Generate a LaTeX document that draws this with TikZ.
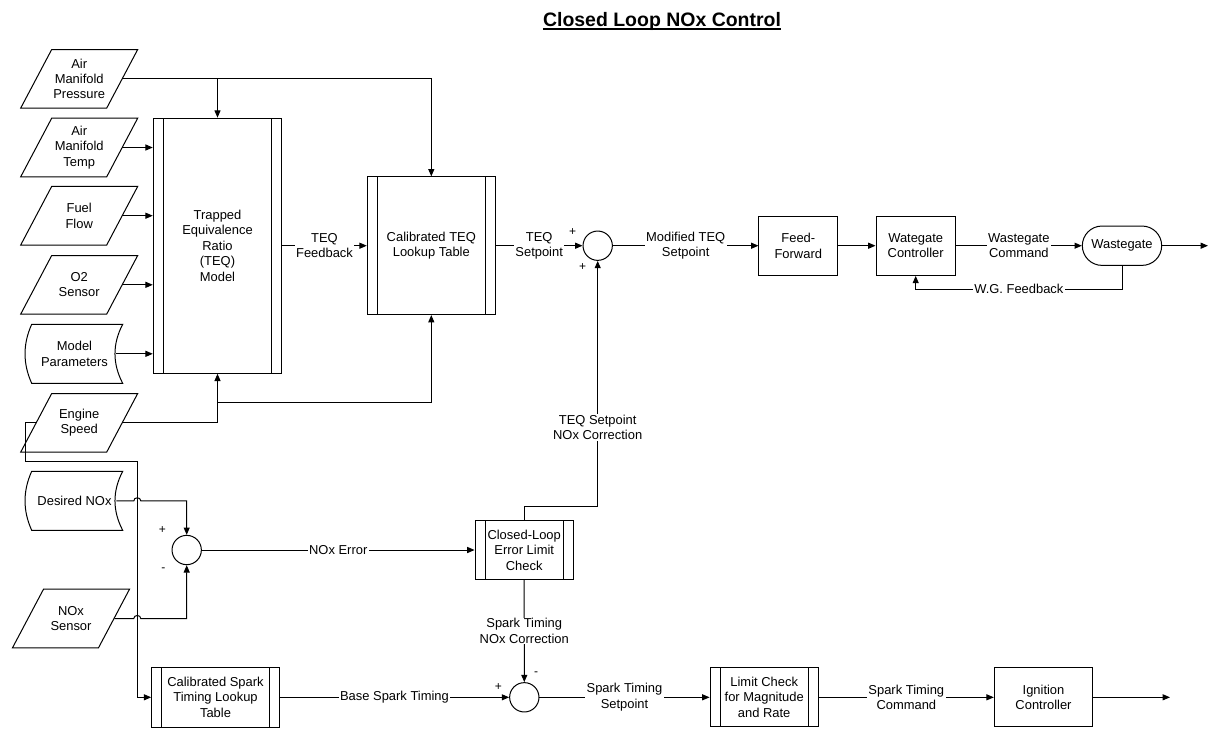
\documentclass[tikz,border=0pt]{standalone}
\usepackage{fontspec}
\setmainfont{Liberation Sans}
\usetikzlibrary{arrows.meta}
\newcommand\parashape[4]{%
  \node[minimum width=64.5pt, minimum height=44pt, inner sep=0pt] (#1) at (#2,#3) {#4};
  \draw[ln] (#2-27.5,#3-29.3) -- (#2+58.5,#3-29.3) -- (#2+27.5,#3+29.3) -- (#2-58.5,#3+29.3) -- cycle;}
\newcommand\sdshape[3]{%
  \node[minimum width=62.25pt, minimum height=44pt, inner sep=0pt] (#1) at (74.5,#2) {#3};
  \draw[ln] (31.7,#2-29.5) -- (122.7,#2-29.5) .. controls (112.4,#2-9.8) and (112.4,#2+9.8) .. (122.7,#2+29.5) -- (31.7,#2+29.5) .. controls (22.8,#2+9.8) and (22.8,#2-9.8) .. (31.7,#2-29.5) -- cycle;}
\begin{document}
\begin{tikzpicture}[x=0.75pt,y=-0.75pt,
  every node/.style={font=\fontsize{9.7}{11.55}\selectfont, align=center},
  ln/.style={line width=0.75pt, draw=black},
  arr/.style={ln, -{Triangle[length=5.5pt,width=4.5pt]}},
  blk/.style={draw, line width=0.75pt, inner sep=0pt},
  proc/.style={blk, path picture={
      \draw[line width=0.75pt] ([xshift=7.5pt]path picture bounding box.north west) -- ([xshift=7.5pt]path picture bounding box.south west);
      \draw[line width=0.75pt] ([xshift=-7.5pt]path picture bounding box.north east) -- ([xshift=-7.5pt]path picture bounding box.south east);}},
  sum/.style={circle, draw, line width=0.75pt, minimum size=22pt, inner sep=0pt},
  lbl/.style={fill=white, inner xsep=1pt, inner ysep=0.5pt},
  sgn/.style={font=\fontsize{9}{10}\selectfont, inner sep=0pt}]
\useasboundingbox (0,0) rectangle (1209,744);

% title
\node[font=\bfseries\fontsize{14.6}{17}\selectfont, inner sep=0pt, anchor=base] (title) at (662,26.7) {Closed Loop NOx Control};
\draw[line width=1.5pt] ([yshift=-2pt]title.base west) -- ([yshift=-2pt]title.base east);

% inputs
\parashape{amp}{79.2}{78.8}{Air\\Manifold\\Pressure}
\parashape{amt}{79.2}{147.5}{Air\\Manifold\\Temp}
\parashape{ff}{79.2}{215.7}{Fuel\\Flow}
\parashape{otwo}{79.2}{284.8}{O2\\Sensor}
\sdshape{mp}{353.8}{Model\\Parameters}
\parashape{es}{79.2}{422.8}{Engine\\Speed}
\sdshape{dn}{500.8}{Desired NOx}
\parashape{ns}{71}{618.5}{NOx\\Sensor}

% blocks
\node[proc, minimum width=96.3pt, minimum height=191.25pt] (teq) at (217.5,245.7) {Trapped\\Equivalence\\Ratio\\(TEQ)\\Model};
\node[proc, minimum width=96pt, minimum height=103.2pt] (lut) at (431.3,245.7) {Calibrated TEQ\\Lookup Table};
\node[sum] (s2) at (597.7,245.7) {};
\node[blk, minimum width=59pt, minimum height=44.5pt] (ffw) at (798.3,245.7) {Feed-\\Forward};
\node[blk, minimum width=59.5pt, minimum height=44.5pt] (wgc) at (915.7,245.7) {Wategate\\Controller};
\node[blk, rounded corners=14.7pt, minimum width=59.5pt, minimum height=29.5pt] (wg) at (1122,245.7) {Wastegate};
\coordinate (wgout) at (1208,245.7);

\node[sum] (s1) at (186.7,550) {};
\node[proc, minimum width=73.7pt, minimum height=44pt] (clc) at (524.2,550) {Closed-Loop\\Error Limit\\Check};
\node[sum] (s3) at (524.3,697.3) {};
\node[proc, minimum width=95.7pt, minimum height=44.7pt] (cst) at (215.5,697.3) {Calibrated Spark\\Timing Lookup\\Table};
\node[proc, minimum width=81.2pt, minimum height=44.25pt] (lc) at (764.2,697.3) {Limit Check\\for Magnitude\\and Rate};
\node[blk, minimum width=73.8pt, minimum height=44.25pt] (ic) at (1043.5,697.3) {Ignition\\Controller};
\coordinate (icout) at (1170,697.3);

% signs
\node[sgn] (p1) at (162.3,530) {+};
\node[sgn] (m1) at (163.3,570) {-};
\node[sgn] (p2) at (572.7,231.7) {+};
\node[sgn] (p3) at (582.7,267.3) {+};
\node[sgn] (p4) at (498.3,687.3) {+};
\node[sgn] (m2) at (536,673.3) {-};

% connectors: top
\coordinate (ampT) at (217.5,78.8);
\draw[arr] (amp.east) -| (lut.north);
\draw[arr] (ampT) -- (teq.north);
\draw[arr] (amt.east) -- (amt.east -| teq.west);
\draw[arr] (ff.east) -- (ff.east -| teq.west);
\draw[arr] (otwo.east) -- (otwo.east -| teq.west);
\draw[arr] (mp.east) -- (mp.east -| teq.west);
\coordinate (esB) at (217.5,402.7);
\draw[arr] (es.east) -| (teq.south);
\draw[arr] (esB) -| (lut.south);
\draw[arr] (teq.east) -- node[lbl]{TEQ\\Feedback} (lut.west);
\draw[arr] (lut.east) -- node[lbl]{TEQ\\Setpoint} (s2.west);
\draw[arr] (s2.east) -- node[lbl]{Modified TEQ\\Setpoint} (ffw.west);
\draw[arr] (ffw.east) -- (wgc.west);
\draw[arr] (wgc.east) -- node[lbl]{Wastegate\\Command} (wg.west);
\draw[arr] (wg.east) -- (wgout);
\coordinate (wf) at (915.7,289.3);
\draw[arr] (wg.south) |- node[lbl, pos=0.75]{W.G. Feedback} (wf) -- (wgc.south);

% engine speed to spark table
\coordinate (e1) at (25,422.8);
\coordinate (e2) at (25,461.7);
\coordinate (e3) at (137.3,461.7);
\coordinate (e4) at (137.3,697.3);
\draw[arr] (es.west) -- (e1) -- (e2) -- (e3) -- (e4) -- (cst.west);

% desired NOx and NOx sensor with hops
\coordinate (h1a) at (133.8,500.8);
\coordinate (h1b) at (140.8,500.8);
\draw[arr] (dn.east) -- (h1a) .. controls (133.8,496.8) and (140.8,496.8) .. (h1b) -| (s1.north);
\coordinate (h2a) at (133.8,618.5);
\coordinate (h2b) at (140.8,618.5);
\draw[arr] (ns.east) -- (h2a) .. controls (133.8,614.5) and (140.8,614.5) .. (h2b) -| (s1.south);

\draw[arr] (s1.east) -- node[lbl]{NOx Error} (clc.west);
\coordinate (c1) at (524.2,506);
\coordinate (c2) at (597.7,506);
\draw[arr] (clc.north) -- (c1) -- (c2) -- node[lbl, pos=0.32]{TEQ Setpoint\\NOx Correction} (s2.south);
\draw[arr] (clc.south) -- node[lbl]{Spark Timing\\NOx Correction} (s3.north);

% bottom row
\draw[arr] (cst.east) -- node[lbl]{Base Spark Timing} (s3.west);
\draw[arr] (s3.east) -- node[lbl]{Spark Timing\\Setpoint} (lc.west);
\draw[arr] (lc.east) -- node[lbl]{Spark Timing\\Command} (ic.west);
\draw[arr] (ic.east) -- (icout);
\end{tikzpicture}
\end{document}
